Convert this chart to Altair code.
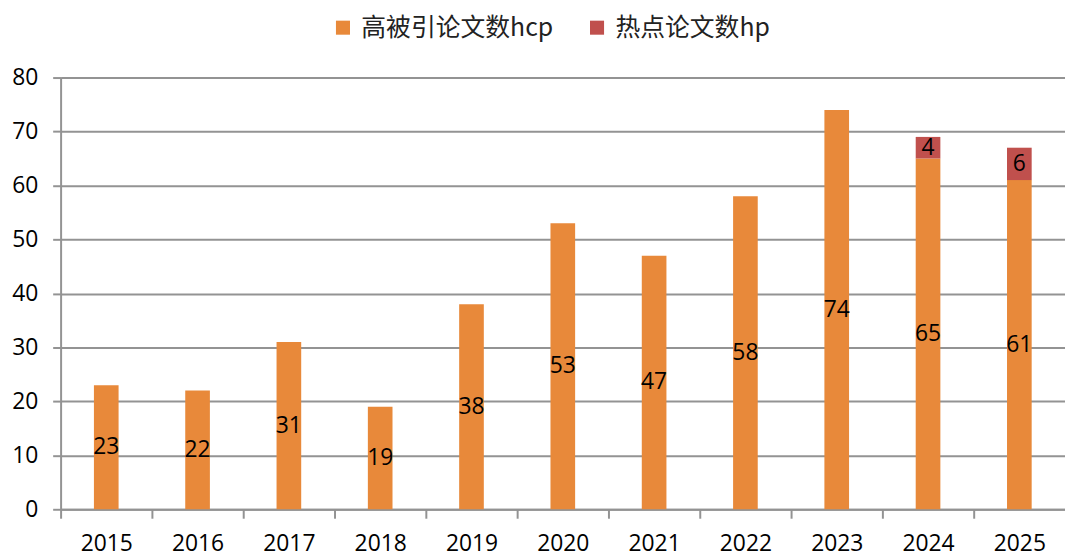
import altair as alt
import pandas as pd

years = ["2015", "2016", "2017", "2018", "2019", "2020", "2021", "2022", "2023", "2024", "2025"]
hcp = [23, 22, 31, 19, 38, 53, 47, 58, 74, 65, 61]
hp = [0, 0, 0, 0, 0, 0, 0, 0, 0, 4, 6]
series_names = ["高被引论文数hcp", "热点论文数hp"]
colors = ["#E8893A", "#C0504D"]

rows = []
for y, a, b in zip(years, hcp, hp):
    rows.append({"year": y, "series": series_names[0], "value": a, "order": 0})
    rows.append({"year": y, "series": series_names[1], "value": b, "order": 1})
df = pd.DataFrame(rows)

FONT = "Open Sans"
GRID = "#939393"

base = alt.Chart(df).transform_stack(
    stack="value", groupby=["year"], as_=["y0", "y1"], sort=[{"field": "order", "order": "ascending"}]
).transform_calculate(mid="(datum.y0 + datum.y1) / 2")

xenc = alt.X(
    "year:O",
    sort=years,
    scale=alt.Scale(paddingInner=0.73, paddingOuter=0.365),
    axis=alt.Axis(
        title=None, labelAngle=0, tickOffset=-46, labelOffset=46, tickSize=9, tickWidth=2,
        tickColor=GRID, domainColor=GRID, domainWidth=2, labelFontSize=23,
        labelFont=FONT, labelColor="black", labelPadding=15, grid=False,
    ),
)

bars = base.mark_bar().encode(
    x=xenc,
    y=alt.Y(
        "y0:Q",
        scale=alt.Scale(domain=[0, 80]),
        axis=alt.Axis(
            title=None, values=list(range(0, 81, 10)), tickSize=8, tickWidth=2,
            tickColor=GRID, domainColor=GRID, domainWidth=2, gridColor=GRID,
            gridWidth=2, labelFontSize=23, labelFont=FONT, labelColor="black",
            labelPadding=15,
        ),
    ),
    y2="y1:Q",
    color=alt.Color(
        "series:N",
        scale=alt.Scale(domain=series_names, range=colors),
        legend=alt.Legend(
            orient="none", legendX=272, legendY=-63, direction="horizontal",
            title=None, symbolType="square", symbolSize=200, symbolStrokeWidth=0,
            labelFontSize=25, labelFont="Noto Sans CJK SC", labelColor="#222222",
            labelLimit=0, columnPadding=31, labelOffset=6, padding=0,
        ),
    ),
    order=alt.Order("order:Q"),
)

labels = base.transform_filter("datum.value > 0").mark_text(
    fontSize=23, font=FONT, color="black"
).encode(
    x=alt.X("year:O", sort=years),
    y=alt.Y("mid:Q"),
    text="value:Q",
)

chart = (bars + labels).properties(
    width=1012,
    height=435,
    autosize=alt.AutoSizeParams(type="none"),
    padding={"left": 53, "top": 68, "right": 0, "bottom": 46},
).configure_view(stroke=None)

chart.save("out.html", embed_options={"renderer": "svg", "actions": False})
